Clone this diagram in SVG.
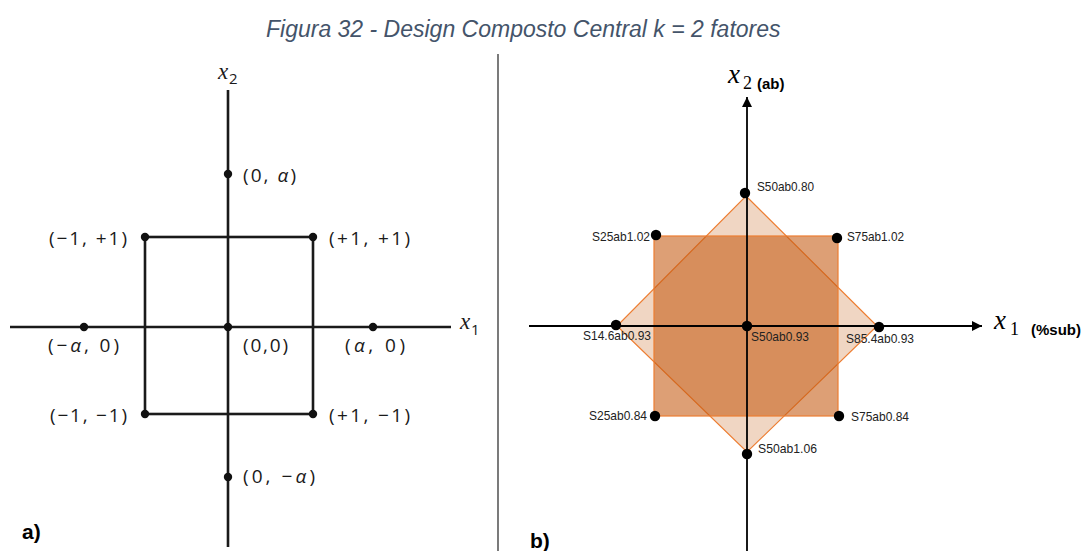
<svg xmlns="http://www.w3.org/2000/svg" width="1087" height="551" viewBox="0 0 1087 551">
<style>
.title{font-family:"Liberation Sans",Arial,sans-serif;font-style:italic;font-size:23px;fill:#44546A}
.lab{font-family:"Open Sans","DejaVu Sans",sans-serif;font-size:19px;fill:#1a1a1a}
.var{font-family:"Liberation Serif",serif;font-style:italic;fill:#1a1a1a}
.sub{font-family:"Open Sans",sans-serif;fill:#1a1a1a}
.ax{stroke:#1a1a1a;stroke-width:2.6;fill:none}
.dotL{fill:#111}
.dotR{fill:#000}
.rlab{font-family:"Liberation Sans",Arial,sans-serif;font-size:13px;fill:#222}
.axR{stroke:#000;stroke-width:1.8;fill:none}
.part{font-family:"Liberation Sans",Arial,sans-serif;font-weight:bold;font-size:21px;fill:#000}
.mvar{font-family:"Liberation Serif","DejaVu Serif",serif;fill:#000}
.bold{font-family:"Liberation Sans",Arial,sans-serif;font-weight:bold;fill:#000}
</style>
<defs>
<marker id="arr" viewBox="0 0 10 10" refX="10" refY="5" markerWidth="10" markerHeight="10" markerUnits="userSpaceOnUse" orient="auto">
<path d="M0,0 L10,5 L0,10 z" fill="#000"/>
</marker>
</defs>
<rect width="1087" height="551" fill="#fff"/>
<text class="title" x="266" y="37">Figura 32 - Design Composto Central k = 2 fatores</text>
<line x1="498" y1="54" x2="498" y2="551" stroke="#222" stroke-width="1.2"/>

<!-- Left diagram -->
<g id="left-connectors">
<line class="ax" x1="228" y1="90" x2="228" y2="547"/>
<line class="ax" x1="10" y1="327" x2="451" y2="327"/>
<rect class="ax" x="145" y="237" width="168" height="177"/>
</g>
<g id="L-x2"><text class="var" x="218" y="79" font-size="23">x</text><text class="sub" x="229" y="84" font-size="15">2</text></g>
<g id="L-x1"><text class="var" x="460" y="329" font-size="23">x</text><text class="sub" x="471" y="335" font-size="15">1</text></g>
<g id="L-0a"><circle class="dotL" cx="228" cy="174" r="4.2"/><text class="lab" x="243" y="182" textLength="53" lengthAdjust="spacing">(0, <tspan font-style="italic">α</tspan>)</text></g>
<g id="L-m1p1"><circle class="dotL" cx="145" cy="237" r="4.2"/><text class="lab" x="49" y="245" textLength="78" lengthAdjust="spacing">(−1, +1)</text></g>
<g id="L-p1p1"><circle class="dotL" cx="313" cy="237" r="4.2"/><text class="lab" x="329" y="245" textLength="81" lengthAdjust="spacing">(+1, +1)</text></g>
<g id="L-ma0"><circle class="dotL" cx="84" cy="327" r="4.2"/><text class="lab" x="48" y="352" textLength="71" lengthAdjust="spacing">(−<tspan font-style="italic">α</tspan>, 0)</text></g>
<g id="L-00"><circle class="dotL" cx="228" cy="327" r="4.2"/><text class="lab" x="243" y="352" textLength="45" lengthAdjust="spacing">(0,0)</text></g>
<g id="L-a0"><circle class="dotL" cx="373" cy="327" r="4.2"/><text class="lab" x="345" y="352" textLength="60" lengthAdjust="spacing">(<tspan font-style="italic">α</tspan>, 0)</text></g>
<g id="L-m1m1"><circle class="dotL" cx="145" cy="414" r="4.2"/><text class="lab" x="50" y="422" textLength="77" lengthAdjust="spacing">(−1, −1)</text></g>
<g id="L-p1m1"><circle class="dotL" cx="313" cy="414" r="4.2"/><text class="lab" x="329" y="422" textLength="81" lengthAdjust="spacing">(+1, −1)</text></g>
<g id="L-0ma"><circle class="dotL" cx="228" cy="477" r="4.2"/><text class="lab" x="243" y="483" textLength="72" lengthAdjust="spacing">(0, −<tspan font-style="italic">α</tspan>)</text></g>
<text class="part" x="22" y="539">a)</text>

<!-- Right diagram -->
<g id="right-shapes">
<polygon points="746,196 877,326 747,452 617,326" fill="#C55A11" fill-opacity="0.25" stroke="#ED7D31" stroke-width="1.2"/>
<rect x="654" y="236" width="184" height="180" fill="#C55A11" fill-opacity="0.58" stroke="#ED7D31" stroke-width="1.2"/>
</g>
<g id="right-connectors">
<line class="axR" x1="747" y1="551" x2="747" y2="97" marker-end="url(#arr)"/>
<line class="axR" x1="529" y1="326" x2="982" y2="326" marker-end="url(#arr)"/>
</g>
<g id="R-x2"><text class="mvar" x="728" y="83" font-size="27" font-style="italic">x</text><text class="mvar" x="743" y="89" font-size="18">2</text><text class="bold" x="757" y="89" font-size="15">(ab)</text></g>
<g id="R-x1"><text class="mvar" x="994" y="329" font-size="27" font-style="italic">x</text><text class="mvar" x="1010" y="335" font-size="18">1</text><text class="bold" x="1031" y="335" font-size="15">(%sub)</text></g>
<g id="R-top"><circle class="dotR" cx="745" cy="193" r="5.2"/><text class="rlab" x="757" y="191" textLength="57" lengthAdjust="spacingAndGlyphs">S50ab0.80</text></g>
<g id="R-tl"><circle class="dotR" cx="656" cy="235" r="5.2"/><text class="rlab" x="592" y="241" textLength="58" lengthAdjust="spacingAndGlyphs">S25ab1.02</text></g>
<g id="R-tr"><circle class="dotR" cx="837" cy="238" r="5.2"/><text class="rlab" x="847" y="241" textLength="57" lengthAdjust="spacingAndGlyphs">S75ab1.02</text></g>
<g id="R-left"><circle class="dotR" cx="616" cy="325" r="5.2"/><text class="rlab" x="583" y="340" textLength="68" lengthAdjust="spacingAndGlyphs">S14.6ab0.93</text></g>
<g id="R-center"><circle class="dotR" cx="747" cy="326" r="5.2"/><text class="rlab" x="751" y="341" textLength="58" lengthAdjust="spacingAndGlyphs">S50ab0.93</text></g>
<g id="R-right"><circle class="dotR" cx="879" cy="327" r="5.2"/><text class="rlab" x="846" y="343" textLength="68" lengthAdjust="spacingAndGlyphs">S85.4ab0.93</text></g>
<g id="R-bl"><circle class="dotR" cx="655" cy="416" r="5.2"/><text class="rlab" x="589" y="420" textLength="58" lengthAdjust="spacingAndGlyphs">S25ab0.84</text></g>
<g id="R-br"><circle class="dotR" cx="839" cy="416" r="5.2"/><text class="rlab" x="851" y="421" textLength="58" lengthAdjust="spacingAndGlyphs">S75ab0.84</text></g>
<g id="R-bottom"><circle class="dotR" cx="747" cy="454" r="5.2"/><text class="rlab" x="758" y="453" textLength="59" lengthAdjust="spacingAndGlyphs">S50ab1.06</text></g>
<text class="part" x="530" y="548">b)</text>
</svg>
